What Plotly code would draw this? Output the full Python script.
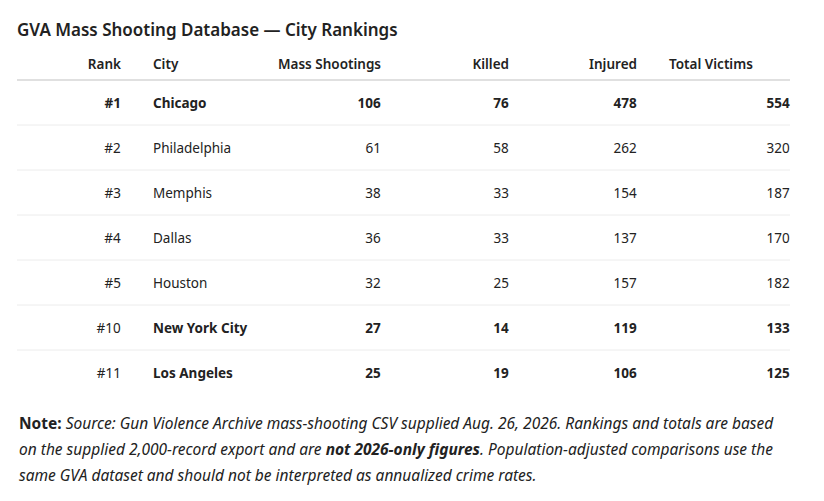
import plotly.graph_objects as go

ranks = ["#1", "#2", "#3", "#4", "#5", "#10", "#11"]
cities = ["Chicago", "Philadelphia", "Memphis", "Dallas", "Houston", "New York City", "Los Angeles"]
mass_shootings = [106, 61, 38, 36, 32, 27, 25]
killed = [76, 58, 33, 33, 25, 14, 19]
injured = [478, 262, 154, 137, 157, 119, 106]
total_victims = [554, 320, 187, 170, 182, 133, 125]
headers = ["Rank", "", "City", "Mass Shootings", "Killed", "Injured", "", "Total Victims"]
bold_rows = [True, False, False, False, False, True, True]
bold_rank = [True, False, False, False, False, False, False]

# the page body adds an 8px margin, so the figure is a bit smaller than the window
W, H = 816, 493
OFF = 8
TEXT = "#222222"
FONT = "Noto Sans"


def fx(x):
    return (x - OFF) / W


def fy(y):
    return 1 - (y - OFF) / H


def fmt(values, flags):
    # every cell gets markup so bold and plain cells sit on the same baseline
    return ["<b>%s</b>" % v if f else "<span>%s</span>" % v for v, f in zip(values, flags)]


blank = [""] * len(ranks)
cols = [
    fmt(ranks, bold_rank),
    blank,
    fmt(cities, bold_rows),
    fmt(mass_shootings, bold_rows),
    fmt(killed, bold_rows),
    fmt(injured, bold_rows),
    blank,
    fmt(total_victims, bold_rows),
]

fig = go.Figure(go.Table(
    domain=dict(x=[fx(17), fx(798)], y=[fy(440), fy(50.5)]),
    columnwidth=[112, 16, 120, 124, 128, 128, 16, 137],
    header=dict(
        values=headers,
        align=["right", "left", "left", "right", "right", "right", "left", "left"],
        height=35,
        fill_color="white",
        line=dict(color="white", width=0),
        font=dict(family=FONT, size=13.5, color=TEXT, weight=600),
    ),
    cells=dict(
        values=cols,
        align=["right", "left", "left", "right", "right", "right", "left", "right"],
        height=45,
        fill_color="white",
        line=dict(color="white", width=0),
        font=dict(family=FONT, size=13.5, color=TEXT),
    ),
))

# horizontal rules
shapes = [dict(type="line", xref="paper", yref="paper", x0=fx(17), x1=fx(790),
               y0=fy(80), y1=fy(80), line=dict(color="#d6d6d6", width=1.5))]
for yy in [125, 170, 215, 260, 305, 350]:
    shapes.append(dict(type="line", xref="paper", yref="paper", x0=fx(17), x1=fx(790),
                       y0=fy(yy), y1=fy(yy), line=dict(color="#ececec", width=1)))

note_lines = [
    "<b>Note:</b> <i>Source: Gun Violence Archive mass-shooting CSV supplied Aug. 26, 2026. Rankings and totals are based</i>",
    "<i>on the supplied 2,000-record export and are <b>not 2026-only figures</b>. Population-adjusted comparisons use the</i>",
    "<i>same GVA dataset and should not be interpreted as annualized crime rates.</i>",
]
annotations = []
for i, t in enumerate(note_lines):
    annotations.append(dict(text=t, x=fx(17), y=fy(423 + 26 * i), xref="paper", yref="paper",
                            xanchor="left", yanchor="middle", showarrow=False,
                            font=dict(family=FONT, size=15.5, color=TEXT)))

fig.update_layout(
    width=W, height=H,
    margin=dict(l=0, r=0, t=0, b=0),
    paper_bgcolor="white", plot_bgcolor="white",
    title=dict(text="GVA Mass Shooting Database — City Rankings", x=fx(17), xanchor="left",
               y=fy(30), yanchor="middle",
               font=dict(family=FONT, size=17, color=TEXT, weight=600)),
    shapes=shapes,
    annotations=annotations,
)

fig.write_html("out.html")
